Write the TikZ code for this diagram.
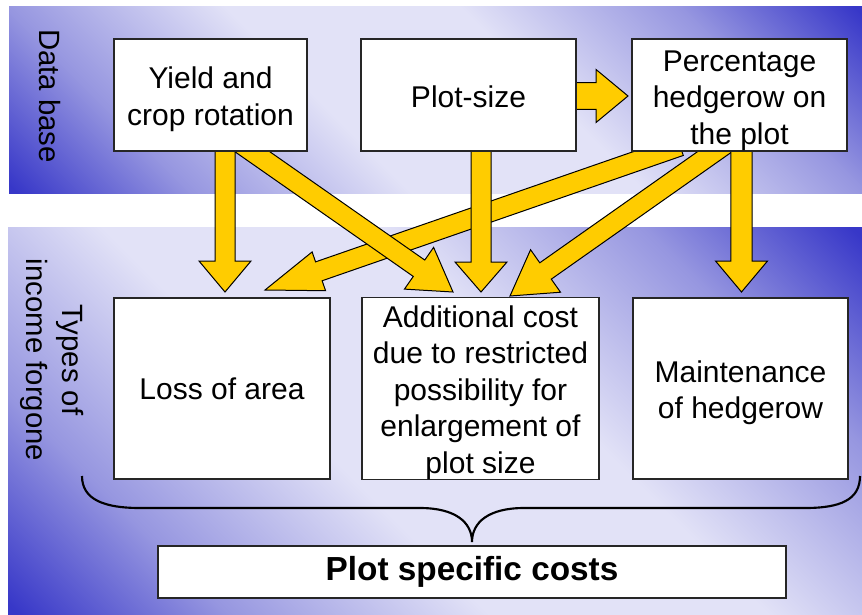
\documentclass[tikz,border=0pt]{standalone}
\usepackage{fontspec}
\setmainfont{Liberation Sans}
\usetikzlibrary{calc}
\pgfdeclarelayer{bg}
\pgfdeclarelayer{arr}
\pgfsetlayers{bg,arr,main}
\definecolor{bandDark}{RGB}{55,55,200}
\definecolor{bandMid}{RGB}{150,150,224}
\definecolor{bandLight}{RGB}{226,226,247}
\definecolor{arrowYellow}{RGB}{255,204,0}
\pgfdeclareverticalshading{bandshade}{100bp}{color(0bp)=(bandDark); color(15bp)=(bandDark); color(27bp)=(bandMid); color(42bp)=(bandLight); color(58bp)=(bandLight); color(73bp)=(bandMid); color(85bp)=(bandDark); color(100bp)=(bandDark)}
\newcommand\blockarr[5]{%
  \path ($(#2)!#3!(#1)$) coordinate (hb);
  \filldraw[blockarrow] ($(#1)!#4!90:(#2)$) -- ($(hb)!#4!-90:(#1)$) -- ($(hb)!#5!-90:(#1)$) -- (#2) -- ($(hb)!#5!90:(#1)$) -- ($(hb)!#4!90:(#1)$) -- ($(#1)!#4!-90:(#2)$) -- cycle;
}
\begin{document}
\begin{tikzpicture}[x=0.75pt,y=-0.75pt,
  band/.style={shading=bandshade, shading angle=-45},
  box/.style={draw=black!85, line width=0.9pt, fill=white, inner sep=0pt, outer sep=0pt, align=center,
    font=\fontsize{22.5pt}{27.4pt}\selectfont},
  sidelabel/.style={rotate=-90, align=center, inner sep=0pt, font=\fontsize{22pt}{27.4pt}\selectfont},
  blockarrow/.style={fill=arrowYellow, draw=black, line width=0.75pt, line join=miter},
  bracestyle/.style={draw=black, line width=1.6pt}]
\useasboundingbox (0,0) rectangle (862,614);
\begin{pgfonlayer}{bg}
  \shade[band] (9,6) rectangle (862,193);
  \shade[band] (8,227) rectangle (862,614);
\end{pgfonlayer}

% side labels
\node[sidelabel] (dblabel) at (50,96) {Data base};
\node[sidelabel] (tylabel) at (52,360) {Types of\\income forgone};

% boxes
\node[box, minimum width=144.75pt, minimum height=84pt] (yield) at (210.5,95) {\rule{0pt}{22.5pt}Yield and\\crop rotation};
\node[box, minimum width=161.25pt, minimum height=84pt] (plotsize) at (468.5,95) {\rule{0pt}{19.5pt}Plot-size};
\node[box, minimum width=161.25pt, minimum height=84pt] (perc) at (739.5,95) {\rule{0pt}{23.5pt}Percentage\\hedgerow on\\the plot};
\node[box, minimum width=162pt, minimum height=135.75pt] (loss) at (222,388.5) {Loss of area};
\node[box, minimum width=177.75pt, minimum height=135.75pt] (addc) at (480.5,388.5) {\rule{0pt}{22.5pt}Additional cost\\due to restricted\\possibility for\\enlargement of\\plot size};
\node[box, minimum width=161.25pt, minimum height=135.75pt] (maint) at (740.5,388.5) {\rule{0pt}{23pt}Maintenance\\of hedgerow};
\node[box, minimum width=471pt, minimum height=39pt, font=\fontsize{25pt}{28pt}\selectfont\bfseries] (psc) at (472,572) {Plot specific costs};

% arrow end points
\coordinate (a1s) at (225,140);   \coordinate (a1t) at (225,292);
\coordinate (a2s) at (237,141);   \coordinate (a2t) at (453,292);
\coordinate (a3s) at (481,140);   \coordinate (a3t) at (481,292);
\coordinate (a4s) at (680,146);   \coordinate (a4t) at (265,290);
\coordinate (a5s) at (730,141);   \coordinate (a5t) at (510,296);
\coordinate (a6s) at (741.5,140); \coordinate (a6t) at (741.5,292);
\coordinate (a7s) at (570,96);    \coordinate (a7t) at (628,96);

\begin{pgfonlayer}{arr}
  \blockarr{a4s}{a4t}{42.75pt}{7.5pt}{15.4pt}
  \blockarr{a1s}{a1t}{23.25pt}{7.5pt}{19.5pt}
  \blockarr{a2s}{a2t}{31.1pt}{7.5pt}{19.1pt}
  \blockarr{a3s}{a3t}{22.5pt}{7.5pt}{19.5pt}
  \blockarr{a5s}{a5t}{32.6pt}{7.5pt}{19.5pt}
  \blockarr{a6s}{a6t}{23.25pt}{7.9pt}{19.5pt}
  \blockarr{a7s}{a7t}{24pt}{10.1pt}{19.9pt}
\end{pgfonlayer}

% brace
\coordinate (brL) at (82,476);
\coordinate (brM) at (472,542);
\coordinate (brR) at (860,476);
\draw[bracestyle] (brL) .. controls (82,500) and (105,508) .. (140,508) -- (420,508)
  .. controls (455,508) and (472,522) .. (brM)
  .. controls (472,522) and (489,508) .. (524,508) -- (805,508)
  .. controls (840,508) and (860,500) .. (brR);
\end{tikzpicture}
\end{document}
